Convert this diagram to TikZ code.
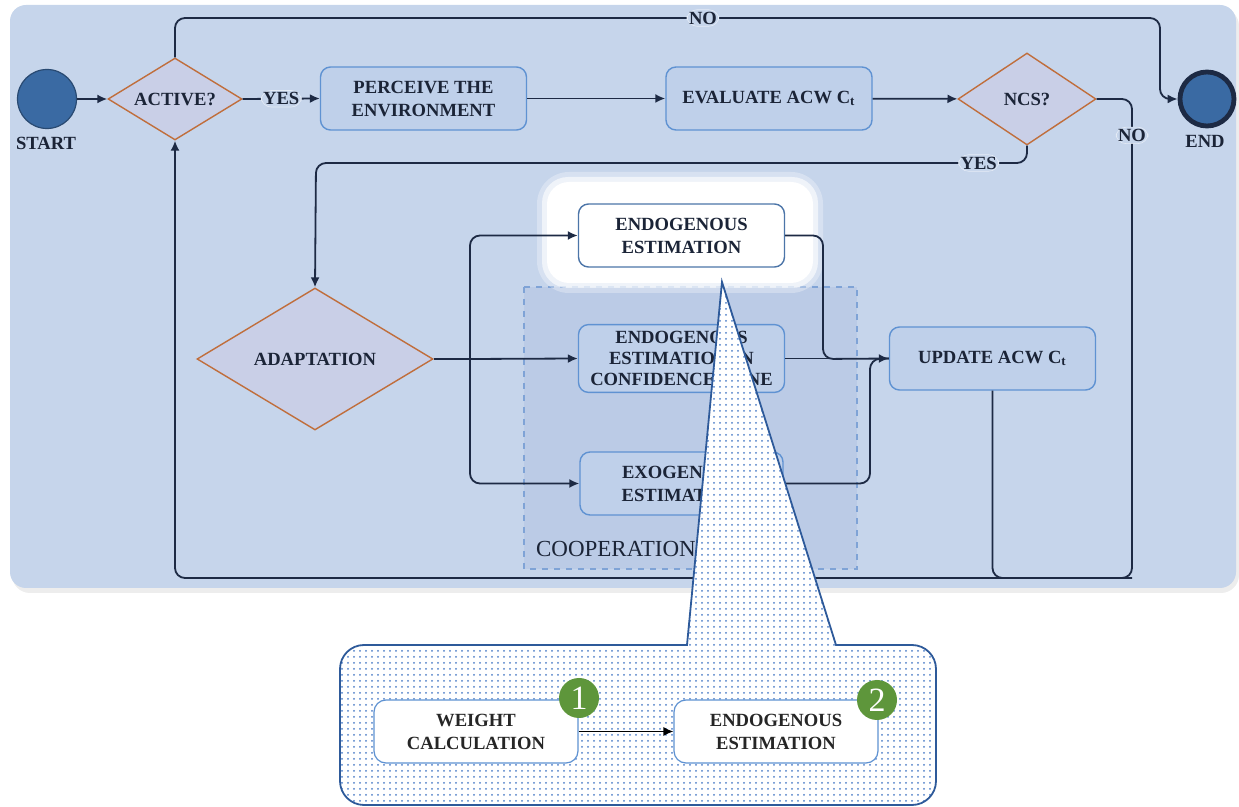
\documentclass[tikz,border=0pt]{standalone}
\usepackage{fontspec}
\setmainfont{Liberation Serif}
\usetikzlibrary{shapes.geometric,patterns,arrows.meta}

\definecolor{bgblue}{HTML}{C6D5EB}
\definecolor{boxfill}{HTML}{BFD0EA}
\definecolor{boxline}{HTML}{5F92D2}
\definecolor{dmdfill}{HTML}{C9CFE7}
\definecolor{dmdline}{HTML}{C06E3C}
\definecolor{linecol}{HTML}{1D2A44}
\definecolor{txtcol}{HTML}{1B2437}
\definecolor{dotblue}{HTML}{4F7FC8}
\definecolor{callline}{HTML}{2E5A9A}
\definecolor{coopfill}{HTML}{BBCBE6}
\definecolor{coopline}{HTML}{7FA3D6}
\definecolor{badgegreen}{HTML}{5E963B}
\definecolor{circfill}{HTML}{3A6AA3}

\newcommand{\boxfont}{\bfseries\fontsize{9.3}{11.5}\selectfont}

\begin{document}
\begin{tikzpicture}[x=0.5pt,y=-0.5pt,
    >={Latex[length=5pt,width=4.5pt]},
    line/.style={draw=linecol,line width=0.9pt,rounded corners=5pt},
    flow/.style={line,->},
    lbl/.style={fill=bgblue,draw=white!55!bgblue,line width=0.3pt,inner sep=1pt,
      text=txtcol,font=\boxfont}]

      \useasboundingbox (0,0) rectangle (1239,807);

      % background panel
      \fill[black!7,rounded corners=9pt] (12,8) rectangle (1239,593);
      \fill[bgblue,rounded corners=8pt] (10,5) rectangle (1236,588);
      \draw[coopline,dashed,line width=0.6pt,fill=coopfill] (524,287) rectangle (857,569);
      \node[anchor=west,text=txtcol,font=\fontsize{11.5}{13}\selectfont] (cooplbl) at (529,549) {COOPERATION};

      % glow round the selected step
      \fill[white,opacity=0.3,rounded corners=16pt] (537,172) rectangle (823,293);
      \fill[white,opacity=0.6,rounded corners=13pt] (542,177) rectangle (818,288);
      \fill[white,rounded corners=11pt] (547,182) rectangle (813,283);

      \begin{scope}[every node/.style={circle,minimum size=29.5pt,inner sep=0pt}]
        \node[fill=circfill,draw=circfill!70!black,line width=0.6pt] (start) at (47,99) {};
        \node[fill=circfill,draw=linecol,line width=2.4pt,minimum size=27pt] (endc) at (1207,99) {};
      \end{scope}
      \node[text=txtcol,font=\boxfont] (startlbl) at (46,143) {START};
      \node[text=txtcol,font=\boxfont] (endlbl) at (1205,141) {END};

      \begin{scope}[every node/.style={diamond,aspect=1.65,inner sep=0pt,draw=dmdline,
          fill=dmdfill,line width=0.7pt,text=txtcol,font=\boxfont}]
        \node[minimum width=67pt,minimum height=41pt] (active) at (175,99) {ACTIVE?};
        \node[minimum width=69pt,minimum height=46pt] (ncs) at (1027,99) {NCS?};
        \node[minimum width=118pt,minimum height=71pt] (adapt) at (315,359) {ADAPTATION};
      \end{scope}

      \begin{scope}[every node/.style={rectangle,rounded corners=5pt,draw=boxline,
          line width=0.7pt,fill=boxfill,minimum width=103pt,minimum height=31.5pt,
          align=center,text=txtcol,font=\boxfont}]
        \node (perceive) at (423.5,98.5) {PERCEIVE THE\\ENVIRONMENT};
        \node (evaluate) at (769,98.5) {EVALUATE ACW C\textsubscript{t}};
        \node (update) at (992.5,358.5) {UPDATE ACW C\textsubscript{t}};
        \node[fill=white,draw=boxline!80!black] (endo) at (681.5,235.5) {ENDOGENOUS\\ESTIMATION};
        \node[font=\bfseries\fontsize{9.3}{10.5}\selectfont] (endoconf) at (681.5,358.5)
          {ENDOGENOUS\\ESTIMATION IN\\CONFIDENCE ZONE};
        \node[minimum width=101.5pt] (exo) at (681.5,483.5) {EXOGENOUS\\ESTIMATION};
      \end{scope}

      \coordinate (topright) at (1160,18);
      \coordinate (noturn) at (1132,578);
      \coordinate (yesturn) at (316,163);
      \coordinate (fork) at (470,359);
      \coordinate (endojoin) at (823,359);
      \coordinate (exojoin) at (870,359);

      \draw[flow] (start) -- (active);
      \draw[flow] (active.north) |- node[lbl,pos=0.768] {NO} (topright) |- (endc.west);
      \draw[flow] (active.east) -- node[lbl] {YES} (perceive.west);
      \draw[flow] (perceive) -- (evaluate);
      \draw[flow] (evaluate) -- (ncs);
      \draw[flow] (ncs.east) -| node[lbl,pos=0.538] {NO} (noturn) -| (active.south);
      \draw[flow] (ncs.south) |- node[lbl,pos=0.534] {YES} (yesturn) -- (adapt.north);
      \draw[line] (adapt.east) -- (fork);
      \draw[flow] (fork) |- (endo.west);
      \draw[flow] (fork) -- (endoconf.west);
      \draw[flow] (fork) |- (exo.west);
      \draw[line] (endo.east) -| (endojoin) -- (update.west);
      \draw[line] (exo.east) -| (exojoin) -- (update.west);
      \draw[flow] (endoconf.east) -- (update.west);
      \draw[line] (update.south) |- (noturn);

      % callout with the detail of the step
      \draw[callline,line width=0.9pt,preaction={fill=white},pattern=dots,pattern color=dotblue]
        (722,282) -- (836,645) [rounded corners=12pt] -| (936,805) -| (340,645)
        [sharp corners] -- (687,645) -- cycle;

      \begin{scope}[every node/.style={rectangle,rounded corners=6pt,draw=boxline,
          line width=0.6pt,fill=white,minimum width=102pt,minimum height=31.5pt,
          align=center,text=black!85,font=\boxfont}]
        \node (weight) at (476,731.5) {WEIGHT\\CALCULATION};
        \node (endodet) at (776,731.5) {ENDOGENOUS\\ESTIMATION};
      \end{scope}
      \draw[->,black,line width=0.6pt] (weight) -- (endodet);

      \begin{scope}[every node/.style={circle,fill=badgegreen,minimum size=20pt,inner sep=0pt,
          text=white,font=\fontsize{17}{17}\selectfont}]
        \node (badge1) at (579,698) {1};
        \node (badge2) at (877,700) {2};
      \end{scope}

    \end{tikzpicture}
\end{document}
